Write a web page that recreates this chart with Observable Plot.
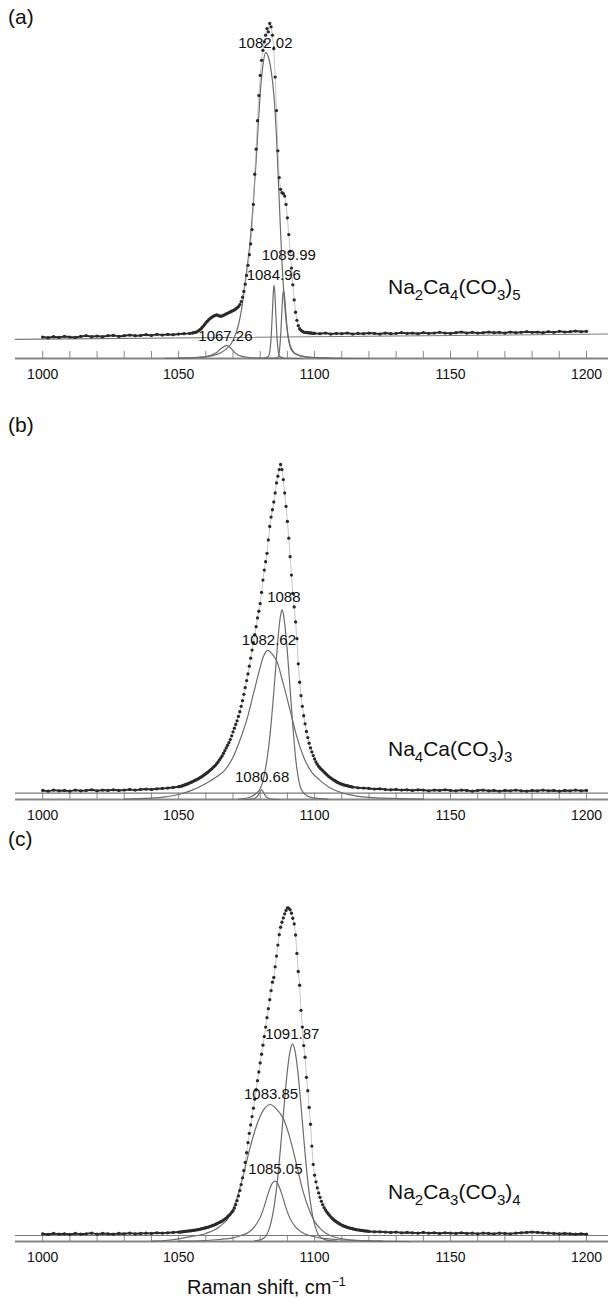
<!DOCTYPE html>
<html>
<head>
<meta charset="utf-8">
<script src="https://cdn.jsdelivr.net/npm/d3@7"></script>
<script src="https://cdn.jsdelivr.net/npm/@observablehq/plot@0.6"></script>
<style>
  html, body { margin: 0; padding: 0; background: #fff; }
  #root { position: relative; width: 608px; height: 1298px; overflow: hidden;
          font-family: "Liberation Sans", Arial, Helvetica, sans-serif; color: #111; }
  .plabel { position: absolute; left: 8px; font-size: 21px; line-height: 24px; }
  .xtitle { position: absolute; left: 187px; font-size: 20px; line-height: 22px; white-space: nowrap; }
  .xtitle sup { font-size: 12.5px; vertical-align: 0; position: relative; top: -8px; }
</style>
</head>
<body>
<div id="root"></div>
<script>
const FONT = '"Liberation Sans", Arial, Helvetica, sans-serif';

// ---------- shared axis data ----------
const xDomain = [990, 1208.1];
const minorTicks = [1000, 1010, 1020, 1030, 1040, 1050, 1060, 1070, 1080, 1090, 1100,
                    1110, 1120, 1130, 1140, 1150, 1160, 1170, 1180, 1190, 1200];
const tickLabels = [1000, 1050, 1100, 1150, 1200];
const xTitle = "Raman shift, cm";
const xTitleSup = "−1";

// ---------- panel (a): Na2Ca4(CO3)5 ----------
// measured points, x 1000..1054 every 2
const aWingL = [6.4, 6.2, 6.5, 6.3, 6.6, 6.4, 6.3, 6.6, 6.8, 6.5, 6.7, 6.5, 6.8, 6.9, 6.6, 6.8,
                7.0, 6.8, 6.9, 7.1, 6.9, 7.2, 7.0, 7.2, 7.1, 7.3, 7.4, 7.5];
// x 1055..1100 every 0.5
const aPeak = [7.6, 7.7, 7.8, 7.9, 8.1, 8.4, 8.7, 9.1, 9.6, 10.1,
               10.6, 11.1, 11.5, 11.9, 12.2, 12.5, 12.7, 12.9, 13.0, 12.9,
               12.7, 12.6, 12.7, 12.9, 13.1, 13.3, 13.5, 13.7, 13.9, 14.1,
               14.3, 14.5, 14.8, 15.1, 15.5, 16.1, 17.0, 18.3, 20.0, 22.2,
               24.8, 27.8, 31.0, 34.2, 38.5, 46.0, 55.0, 62.5, 71.0, 78.5,
               84.5, 89.0, 92.0, 94.5, 96.5, 98.5, 97.5, 100, 99.0, 96.5,
               92.5, 84.0, 74.0, 62.0, 54.0, 50.5, 49.5, 49.2, 48.5, 46.0,
               42.0, 37.0, 32.0, 27.0, 22.0, 17.5, 13.8, 11.4, 9.8, 8.9,
               8.4, 8.1, 7.9, 7.8, 7.7, 7.8, 7.6, 7.7, 7.5, 7.6,
               7.5];
// x 1102..1200 every 2
const aWingR = [7.4, 7.6, 7.3, 7.5, 7.4, 7.6, 7.3, 7.5, 7.4, 7.6,
                7.5, 7.3, 7.6, 7.4, 7.5, 7.7, 7.5, 7.6, 7.4, 7.7,
                7.5, 7.6, 7.8, 7.6, 7.5, 7.7, 7.9, 7.6, 7.8, 7.6,
                7.7, 7.9, 7.7, 7.8, 7.6, 7.9, 7.7, 7.8, 8.0, 7.8,
                7.9, 7.7, 8.0, 7.8, 8.1, 7.9, 8.0, 8.2, 8.0, 8.1];
const aBackground = [[990, 5.7], [1208.1, 7.3]];
const aFit1067 = [[1050, 0.1], [1056, 0.3], [1060, 0.6], [1062, 1.0], [1064, 1.8], [1065, 2.5], [1066, 3.2],
                  [1067, 3.7], [1067.7, 3.9], [1068.5, 3.6], [1069.5, 2.8], [1070.5, 1.9], [1071.5, 1.2],
                  [1073, 0.7], [1076, 0.3], [1082, 0.1], [1095, 0]];
const aFit1082 = [[1045, 0.05], [1055, 0.2], [1060, 0.5], [1064, 1.2], [1067, 2.5], [1070, 5.4], [1072, 10],
                  [1073.2, 15], [1074.5, 23], [1076.3, 35], [1077.5, 47], [1078.5, 59], [1079.3, 70], [1080, 79],
                  [1081, 87.5], [1082, 91.4], [1083, 90], [1084, 86], [1085, 79], [1086, 66], [1087, 47],
                  [1088, 29], [1089, 16], [1090, 8], [1091, 4], [1092, 2.2], [1094, 1], [1098, 0.4],
                  [1105, 0.15], [1120, 0]];
const aFit1085 = [[1081, 0], [1083, 0.6], [1083.6, 2.5], [1084.1, 7.5], [1084.5, 14], [1084.8, 19.5],
                  [1085.1, 21.8], [1085.4, 19.5], [1085.7, 14], [1086.1, 7.5], [1086.6, 2.5], [1087.2, 0.6],
                  [1089, 0]];
const aFit1090 = [[1085, 0], [1086.5, 0.4], [1087.1, 2.5], [1087.6, 8], [1088, 14.5], [1088.3, 18.8],
                  [1088.6, 20.3], [1088.9, 19], [1089.3, 15], [1089.8, 10], [1090.3, 6.2], [1091, 3.5],
                  [1092, 2], [1094, 1], [1097, 0.45], [1102, 0.2], [1110, 0.05]];
const aPeakLabels = [
  {x: 1081.9, y: 94.0, text: "1082.02"},
  {x: 1090.5, y: 30.7, text: "1089.99"},
  {x: 1085.0, y: 24.8, text: "1084.96"},
  {x: 1067.2, y: 6.6, text: "1067.26"}
];
const aCompound = ["Na", "2", "Ca", "4", "(CO", "3", ")", "5"];

// ---------- panel (b): Na4Ca(CO3)3 ----------
// x 1000..1048 every 2
const bWingL = [2.7, 2.5, 2.8, 2.6, 2.7, 2.5, 2.8, 2.6, 2.7, 2.9,
                2.6, 2.8, 2.7, 2.9, 2.7, 2.8, 3.0, 2.8, 3.0, 3.1,
                3.0, 3.2, 3.3, 3.4, 3.6];
// x 1050..1114 every 0.5
const bPeak = [3.8, 3.9, 4.0, 4.1, 4.3, 4.4, 4.6, 4.7, 4.9, 5.1,
               5.3, 5.5, 5.7, 5.9, 6.1, 6.3, 6.6, 6.8, 7.1, 7.4,
               7.7, 8.0, 8.3, 8.7, 9.0, 9.4, 9.8, 10.2, 10.7, 11.2,
               11.8, 12.4, 13.0, 13.8, 14.6, 15.4, 16.2, 17.0, 17.9, 19.0,
               20.2, 21.3, 22.4, 23.5, 24.8, 26.2, 27.8, 29.5, 31.4, 33.4,
               35.5, 37.5, 39.8, 42.2, 44.6, 46.8, 49.2, 51.6, 54.2, 56.2,
               58.5, 61.8, 65.5, 68.5, 71.0, 73.5, 77.5, 81.5, 84.3, 86.5,
               88.8, 91.5, 94.5, 96.5, 98.5, 100, 98.5, 95.5, 91.5, 87.5,
               83.0, 78.0, 72.5, 67.0, 61.5, 57.5, 53.0, 48.0, 40.5, 35.0,
               31.0, 27.8, 25.0, 22.6, 20.3, 18.5, 16.8, 15.4, 14.2, 13.1,
               12.1, 11.2, 10.5, 9.9, 9.4, 9.0, 8.6, 8.2, 7.8, 7.4,
               7.0, 6.7, 6.4, 6.1, 5.8, 5.6, 5.3, 5.1, 4.9, 4.7,
               4.6, 4.4, 4.3, 4.2, 4.1, 4.0, 3.9, 3.8, 3.7];
// x 1116..1200 every 2
const bWingR = [3.5, 3.4, 3.3, 3.1, 3.2, 3.0, 2.9, 3.0, 2.8, 2.9,
                2.7, 2.9, 2.8, 2.6, 2.8, 2.7, 2.9, 2.7, 2.6, 2.8,
                2.7, 2.5, 2.7, 2.8, 2.6, 2.7, 2.5, 2.7, 2.6, 2.8,
                2.6, 2.5, 2.7, 2.6, 2.8, 2.6, 2.7, 2.5, 2.7, 2.6,
                2.8, 2.6, 2.7];
const bBackground = [[990, 1.9], [1208.1, 1.9]];
const bFit1082 = [[1030, 0.1], [1040, 0.4], [1045, 0.8], [1050, 1.5], [1055, 2.8], [1060, 4.8], [1064, 6.8],
                  [1067, 8.8], [1070, 12.6], [1072.5, 17.6], [1075, 23.6], [1077.5, 31.5], [1080, 39.5],
                  [1081, 42.3], [1082, 44], [1082.6, 44.5], [1083.5, 44.2], [1085, 42.8], [1086, 41.5],
                  [1088.5, 34.5], [1091, 26.6], [1093.5, 18.6], [1096, 12.6], [1099, 8.1], [1102, 5.7],
                  [1105, 3.8], [1110, 2], [1115, 1.1], [1125, 0.4], [1140, 0.1]];
const bFit1088 = [[1072, 0.1], [1076, 0.6], [1078, 1.5], [1080, 3.2], [1081, 5.5], [1082, 9.5], [1083, 15],
                  [1084, 22.5], [1085, 32], [1086, 42.5], [1087, 52], [1087.5, 55], [1088, 56.6],
                  [1088.5, 55.5], [1089, 52.5], [1090, 44], [1091, 33], [1092, 22], [1093, 12.5],
                  [1094, 6.5], [1095, 3.2], [1097, 1.2], [1100, 0.4], [1105, 0.1]];
const bFit1080 = [[1074, 0], [1077, 0.15], [1078.5, 0.6], [1079.3, 1.4], [1080, 2.4], [1080.5, 2.9],
                  [1081, 2.4], [1081.7, 1.4], [1082.5, 0.6], [1084, 0.15], [1087, 0]];
const bPeakLabels = [
  {x: 1088.7, y: 60.4, text: "1088"},
  {x: 1083.2, y: 47.5, text: "1082.62"},
  {x: 1080.7, y: 6.6, text: "1080.68"}
];
const bCompound = ["Na", "4", "Ca(CO", "3", ")", "3"];

// ---------- panel (c): Na2Ca3(CO3)4 ----------
// x 1000..1048 every 2
const cWingL = [2.3, 2.1, 2.4, 2.2, 2.3, 2.1, 2.4, 2.2, 2.3, 2.5,
                2.2, 2.4, 2.3, 2.2, 2.4, 2.3, 2.5, 2.3, 2.4, 2.5,
                2.4, 2.6, 2.5, 2.6, 2.7];
// x 1050..1120 every 0.5
const cPeak = [2.8, 2.8, 2.9, 2.9, 3.0, 3.0, 3.1, 3.1, 3.2, 3.2,
               3.3, 3.3, 3.4, 3.5, 3.5, 3.6, 3.7, 3.8, 3.9, 4.0,
               4.1, 4.2, 4.3, 4.5, 4.6, 4.8, 4.9, 5.1, 5.3, 5.5,
               5.7, 5.9, 6.1, 6.4, 6.7, 7.0, 7.4, 7.8, 8.2, 8.7,
               9.2, 10.0, 11.0, 12.2, 13.6, 15.2, 17.0, 19.0, 21.2, 23.6,
               26.5, 29.5, 32.3, 34.8, 37.3, 39.8, 42.5, 45.3, 48.0, 50.6,
               53.3, 55.9, 58.6, 61.2, 64.0, 66.8, 69.5, 72.2, 74.9, 77.4,
               78.8, 82.0, 85.2, 88.5, 91.6, 93.8, 95.3, 96.6, 97.8, 98.8,
               99.6, 99.5, 99.0, 98.0, 96.5, 94.8, 91.5, 86.0, 80.6, 76.5,
               69.0, 64.0, 58.5, 55.0, 49.0, 45.0, 40.0, 35.0, 28.5, 23.0,
               19.8, 17.8, 16.0, 14.5, 13.2, 12.0, 11.0, 10.1, 9.4, 8.8,
               8.3, 7.8, 7.3, 6.9, 6.5, 6.2, 5.9, 5.6, 5.4, 5.1,
               4.9, 4.7, 4.5, 4.4, 4.2, 4.1, 4.0, 3.9, 3.8, 3.7,
               3.6, 3.5, 3.5, 3.4, 3.3, 3.3, 3.2, 3.2, 3.1, 3.1,
               3.0];
// x 1122..1200 every 2
const cWingR = [2.9, 2.9, 2.8, 2.7, 2.8, 2.6, 2.7, 2.6, 2.5, 2.7,
                2.5, 2.6, 2.4, 2.6, 2.5, 2.4, 2.6, 2.4, 2.5, 2.3,
                2.5, 2.4, 2.3, 2.5, 2.4, 2.3, 2.5, 2.6, 2.7, 2.8,
                2.7, 2.6, 2.5, 2.4, 2.3, 2.4, 2.3, 2.2, 2.3, 2.2];
const cBackground = [[990, 1.8], [1208.1, 1.8]];
const cFit1092 = [[1078, 0.2], [1080, 0.5], [1082, 1.5], [1083, 3.1], [1084, 5.7], [1085, 9.9], [1086, 15.8],
                  [1087, 23.7], [1088, 32.9], [1089, 42.5], [1090, 51], [1091, 56.9], [1091.9, 59],
                  [1092.8, 56.9], [1093.8, 51], [1094.8, 42.5], [1095.8, 32.9], [1096.8, 23.7],
                  [1097.8, 15.8], [1098.8, 9.9], [1099.8, 5.7], [1100.8, 3.1], [1101.8, 1.5],
                  [1104, 0.5], [1108, 0.1]];
const cFit1084 = [[1040, 0.1], [1045, 0.3], [1050, 0.8], [1054, 1.4], [1060, 2.4], [1065, 4.4], [1069, 7.9],
                  [1071.4, 12.8], [1073.8, 19.8], [1076.2, 27.8], [1078.7, 34.7], [1081, 39], [1083.7, 40.9],
                  [1086, 39.5], [1088.5, 36.7], [1091, 30.7], [1093.4, 22.8], [1095.8, 14.8], [1098.3, 8.9],
                  [1100, 6], [1102, 3.9], [1104.5, 2.3], [1107, 1.4], [1112, 0.6], [1120, 0.2], [1135, 0]];
const cFit1085 = [[1050, 0.1], [1060, 0.3], [1065, 0.6], [1070, 1.1], [1073, 1.8], [1076, 2.9], [1078, 4.5],
                  [1080, 7.2], [1081.5, 10.5], [1083, 14.5], [1084.3, 17.2], [1085.4, 18], [1086.5, 17.2],
                  [1087.8, 14.5], [1089.3, 10.5], [1090.8, 7.2], [1092.8, 4.5], [1095, 2.9], [1098, 1.8],
                  [1102, 1.1], [1108, 0.6], [1115, 0.3], [1125, 0.1]];
const cPeakLabels = [
  {x: 1091.8, y: 62.0, text: "1091.87"},
  {x: 1084.0, y: 44.1, text: "1083.85"},
  {x: 1085.6, y: 21.6, text: "1085.05"}
];
const cCompound = ["Na", "2", "Ca", "3", "(CO", "3", ")", "4"];

// ---------- panel layout ----------
const panels = [
  {tag: "(a)", tagY: 17, top: 0, height: 415, mt: 23, mb: 57, tickTop: 2.1,
   wingL: aWingL, wingLStart: 1000, peak: aPeak, peakStart: 1055, wingR: aWingR, wingRStart: 1102,
   background: aBackground, fits: [aFit1067, aFit1082, aFit1085, aFit1090],
   labels: aPeakLabels, compound: aCompound, compoundAt: [1127, 21.2]},
  {tag: "(b)", tagY: 425, top: 415, height: 435, mt: 49, mb: 51, tickTop: 1.9,
   wingL: bWingL, wingLStart: 1000, peak: bPeak, peakStart: 1050, wingR: bWingR, wingRStart: 1116,
   background: bBackground, fits: [bFit1082, bFit1088, bFit1080],
   labels: bPeakLabels, compound: bCompound, compoundAt: [1127, 15.0]},
  {tag: "(c)", tagY: 839, top: 850, height: 448, mt: 56, mb: 57, tickTop: 1.8,
   wingL: cWingL, wingLStart: 1000, peak: cPeak, peakStart: 1050, wingR: cWingR, wingRStart: 1122,
   background: cBackground, fits: [cFit1092, cFit1084, cFit1085],
   labels: cPeakLabels, compound: cCompound, compoundAt: [1127, 14.6]}
];

const root = document.getElementById("root");

function drawPanel(p) {
  const left = p.wingL.map((v, i) => ({x: p.wingLStart + 2 * i, y: v}));
  const mid = p.peak.map((v, i) => ({x: p.peakStart + 0.5 * i, y: v}));
  const right = p.wingR.map((v, i) => ({x: p.wingRStart + 2 * i, y: v}));
  const all = [...left, ...mid, ...right];
  const wingA = [...left, mid[0]];
  const wingB = [mid[mid.length - 1], ...right];
  const compoundText = p.compound.join("");

  const svg = Plot.plot({
    width: 608,
    height: p.height,
    marginLeft: 15,
    marginRight: 0,
    marginTop: p.mt,
    marginBottom: p.mb,
    x: {domain: xDomain, axis: null},
    y: {domain: [0, 100], axis: null},
    style: {fontFamily: FONT, background: "none", overflow: "visible", color: "#111"},
    marks: [
      Plot.ruleX(minorTicks, {x: d => d, y1: 0, y2: p.tickTop, stroke: "#8a8a8a", strokeWidth: 1}),
      Plot.line(p.background, {x: d => d[0], y: d => d[1], stroke: "#7a7a7a", strokeWidth: 1.1}),
      Plot.ruleY([0], {stroke: "#858585", strokeWidth: 2.2}),
      ...p.fits.map(f => Plot.line(f, {x: d => d[0], y: d => d[1], curve: "monotone-x",
                                       stroke: "#6c6c6c", strokeWidth: 1.2})),
      Plot.line(all, {x: "x", y: "y", stroke: "#b0b0b0", strokeWidth: 0.7}),
      Plot.line(wingA, {x: "x", y: "y", stroke: "#2a2a2a", strokeWidth: 2}),
      Plot.line(wingB, {x: "x", y: "y", stroke: "#2a2a2a", strokeWidth: 2}),
      Plot.dot(all, {x: "x", y: "y", r: 1.65, fill: "#2a2a2a", stroke: null}),
      Plot.text(tickLabels, {x: d => d, y: 0, dy: 16, text: d => String(d), fontSize: 14, fill: "#111"}),
      Plot.text(p.labels, {x: "x", y: "y", text: "text", fontSize: 15, fill: "#111"}),
      Plot.text([{x: p.compoundAt[0], y: p.compoundAt[1], text: compoundText}],
                {x: "x", y: "y", text: "text", textAnchor: "start", fontSize: 21, fill: "#111"})
    ]
  });

  // turn chemical formula digits into subscripts
  d3.select(svg).selectAll("text").each(function () {
    if (this.textContent === compoundText) {
      const el = d3.select(this);
      el.text(null);
      p.compound.forEach((s, i) => {
        const sub = i % 2 === 1;
        const t = el.append("tspan").text(s);
        if (sub) t.attr("font-size", "15px").attr("dy", "6");
        else if (i > 0) t.attr("dy", "-6");
      });
    }
  });

  svg.style.position = "absolute";
  svg.style.left = "0px";
  svg.style.top = p.top + "px";
  root.appendChild(svg);

  const tag = document.createElement("div");
  tag.className = "plabel";
  tag.textContent = p.tag;
  tag.style.top = (p.tagY - 12) + "px";
  root.appendChild(tag);
}

panels.forEach(drawPanel);

const xt = document.createElement("div");
xt.className = "xtitle";
xt.style.top = (1287 - 11) + "px";
xt.append(document.createTextNode(xTitle));
const sup = document.createElement("sup");
sup.textContent = xTitleSup;
xt.append(sup);
root.appendChild(xt);
</script>
</body>
</html>
